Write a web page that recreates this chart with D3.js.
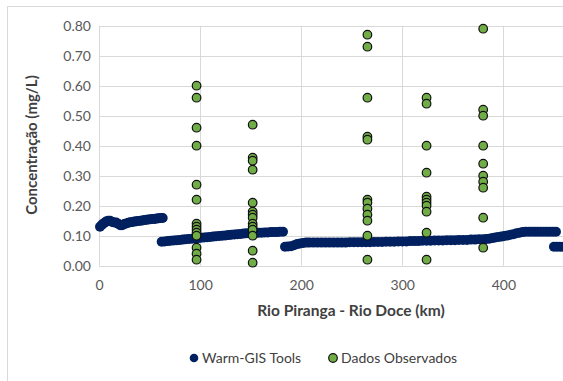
<!DOCTYPE html>
<html><head><meta charset="utf-8">
<script src="https://cdn.jsdelivr.net/npm/d3@7"></script>
<style>body{margin:0;background:#fff}svg{display:block}text{font-family:Lato,"Open Sans",sans-serif}</style>
</head><body><svg id="c" width="563" height="381"></svg>
<script>
// Warm-GIS Tools model output: [km, mg/L]
const modelSeg1 = [[1,0.130],[3,0.137],[5,0.142],[7,0.147],[9,0.150],[11,0.150],[13,0.146],[15,0.144],[17,0.144],[19,0.140],[21,0.135],[23,0.135],[25,0.139],[27,0.141],[29,0.143],[31,0.145],[33,0.146],[35,0.147],[37,0.148],[39,0.149],[41,0.150],[43,0.151],[45,0.152],[47,0.153],[49,0.154],[51,0.155],[53,0.156],[55,0.156],[57,0.157],[59,0.158],[61,0.159],[63,0.159]];
const modelSeg2 = [[62,0.080],[65,0.081],[68,0.082],[71,0.083],[74,0.084],[77,0.085],[80,0.086],[83,0.087],[86,0.088],[89,0.089],[92,0.090],[95,0.091],[98,0.092],[101,0.093],[104,0.094],[107,0.095],[110,0.096],[113,0.097],[116,0.098],[119,0.099],[122,0.100],[125,0.101],[128,0.102],[131,0.103],[134,0.104],[137,0.105],[140,0.106],[143,0.107],[146,0.108],[149,0.108],[152,0.109],[155,0.109],[158,0.110],[161,0.110],[164,0.111],[167,0.111],[170,0.112],[173,0.112],[176,0.112],[179,0.113],[182,0.113]];
const modelSeg3 = [[184,0.063],[187,0.064],[190,0.065],[193,0.068],[196,0.072],[199,0.074],[202,0.076],[205,0.077],[208,0.077],[212,0.077],[216,0.077],[220,0.077],[224,0.077],[228,0.077],[232,0.077],[236,0.077],[240,0.077],[244,0.077],[248,0.078],[252,0.078],[256,0.078],[260,0.078],[264,0.078],[268,0.078],[272,0.079],[276,0.079],[280,0.079],[284,0.080],[288,0.080],[292,0.080],[296,0.081],[300,0.081],[304,0.081],[308,0.082],[312,0.082],[316,0.082],[320,0.083],[324,0.083],[328,0.083],[332,0.084],[336,0.084],[340,0.084],[344,0.085],[348,0.085],[352,0.085],[356,0.086],[360,0.086],[364,0.086],[368,0.087],[372,0.087],[376,0.088],[380,0.088],[383,0.089],[386,0.090],[389,0.092],[392,0.094],[395,0.096],[398,0.097],[401,0.099],[404,0.101],[407,0.103],[410,0.105],[413,0.108],[416,0.110],[419,0.112],[422,0.113],[425,0.113],[428,0.113],[431,0.113],[434,0.113],[437,0.113],[440,0.113],[443,0.113],[446,0.113],[449,0.113],[452,0.113]];
const modelSeg4 = [[450,0.063],[453,0.063],[456,0.063],[459,0.063],[462,0.063]];

// Observed data: station km and values
const obsKm = [96.5, 152, 265.5, 324, 380];
const obsValues = [
  [0.60,0.56,0.46,0.40,0.27,0.22,0.14,0.13,0.12,0.11,0.10,0.06,0.04,0.02],
  [0.47,0.36,0.35,0.32,0.21,0.18,0.17,0.16,0.14,0.13,0.12,0.10,0.05,0.01],
  [0.77,0.73,0.56,0.43,0.42,0.22,0.21,0.19,0.17,0.15,0.10,0.02],
  [0.56,0.54,0.40,0.31,0.23,0.22,0.21,0.20,0.18,0.11,0.02],
  [0.79,0.52,0.50,0.40,0.34,0.30,0.28,0.26,0.16,0.06]
];
const xTicks = [0,100,200,300,400];
const yTicks = [0,0.1,0.2,0.3,0.4,0.5,0.6,0.7,0.8];
const xTitle = "Rio Piranga - Rio Doce (km)";
const yTitle = "Concentração (mg/L)";
const legendLabels = ["Warm-GIS Tools","Dados Observados"];

const svg = d3.select("#c");
const x = d3.scaleLinear().domain([0,500]).range([99,604.5]);
const y = d3.scaleLinear().domain([0,0.8]).range([265.7,25.7]);
const grid = "#d9d9d9";

// chart border
svg.append("rect").attr("x",7.5).attr("y",6.5).attr("width",700).attr("height",500)
  .attr("fill","none").attr("stroke",grid);

// gridlines
svg.append("g").selectAll("line").data(yTicks).join("line")
  .attr("x1",x(0)).attr("x2",x(500)).attr("y1",d=>Math.round(y(d))+0.5).attr("y2",d=>Math.round(y(d))+0.5)
  .attr("stroke",grid);
svg.append("g").selectAll("line").data(xTicks).join("line")
  .attr("y1",y(0)).attr("y2",y(0.8)).attr("x1",d=>Math.round(x(d))+0.5).attr("x2",d=>Math.round(x(d))+0.5)
  .attr("stroke",grid);

// axes labels
const yAxis = d3.axisLeft(y).tickValues(yTicks).tickFormat(d3.format(".2f")).tickSize(0).tickPadding(8);
const gy = svg.append("g").attr("transform",`translate(${x(0)},0)`).call(yAxis);
gy.select(".domain").remove();
gy.selectAll("text").attr("font-size",14).attr("fill","#595959").attr("font-family","Lato");
const xAxis = d3.axisBottom(x).tickValues(xTicks).tickFormat(d3.format("d")).tickSize(0).tickPadding(14);
const gx = svg.append("g").attr("transform",`translate(0,${y(0)})`).call(xAxis);
gx.select(".domain").remove();
gx.selectAll("text").attr("font-size",14).attr("fill","#595959").attr("font-family","Lato");

// model series
const model = [].concat(modelSeg1, modelSeg2, modelSeg3, modelSeg4);
svg.append("g").selectAll("circle").data(model).join("circle")
  .attr("cx",d=>x(d[0])).attr("cy",d=>y(d[1])).attr("r",5).attr("fill","#002060");

// observed
const obs = [];
obsKm.forEach((k,i)=>obsValues[i].forEach(v=>obs.push([k,v])));
svg.append("g").selectAll("circle").data(obs).join("circle")
  .attr("cx",d=>x(d[0])).attr("cy",d=>y(d[1])).attr("r",4.3)
  .attr("fill","#70ad47").attr("stroke","#111").attr("stroke-width",1.2);

// titles
svg.append("text").attr("x",351).attr("y",316).attr("text-anchor","middle")
  .attr("font-size",15.5).attr("font-weight","bold").attr("fill","#404040").text(xTitle);
svg.append("text").attr("transform","translate(37,145) rotate(-90)").attr("text-anchor","middle")
  .attr("font-size",15).attr("font-weight","bold").attr("fill","#404040").text(yTitle);

// legend
const lg = svg.append("g");
lg.append("circle").attr("cx",194).attr("cy",358).attr("r",4.3).attr("fill","#002060");
lg.append("text").attr("x",202).attr("y",363).attr("font-size",14).attr("fill","#404040").text(legendLabels[0]);
lg.append("circle").attr("cx",333).attr("cy",358).attr("r",4.3).attr("fill","#70ad47").attr("stroke","#111").attr("stroke-width",1.2);
lg.append("text").attr("x",341).attr("y",363).attr("font-size",14).attr("fill","#404040").text(legendLabels[1]);
</script></body></html>
